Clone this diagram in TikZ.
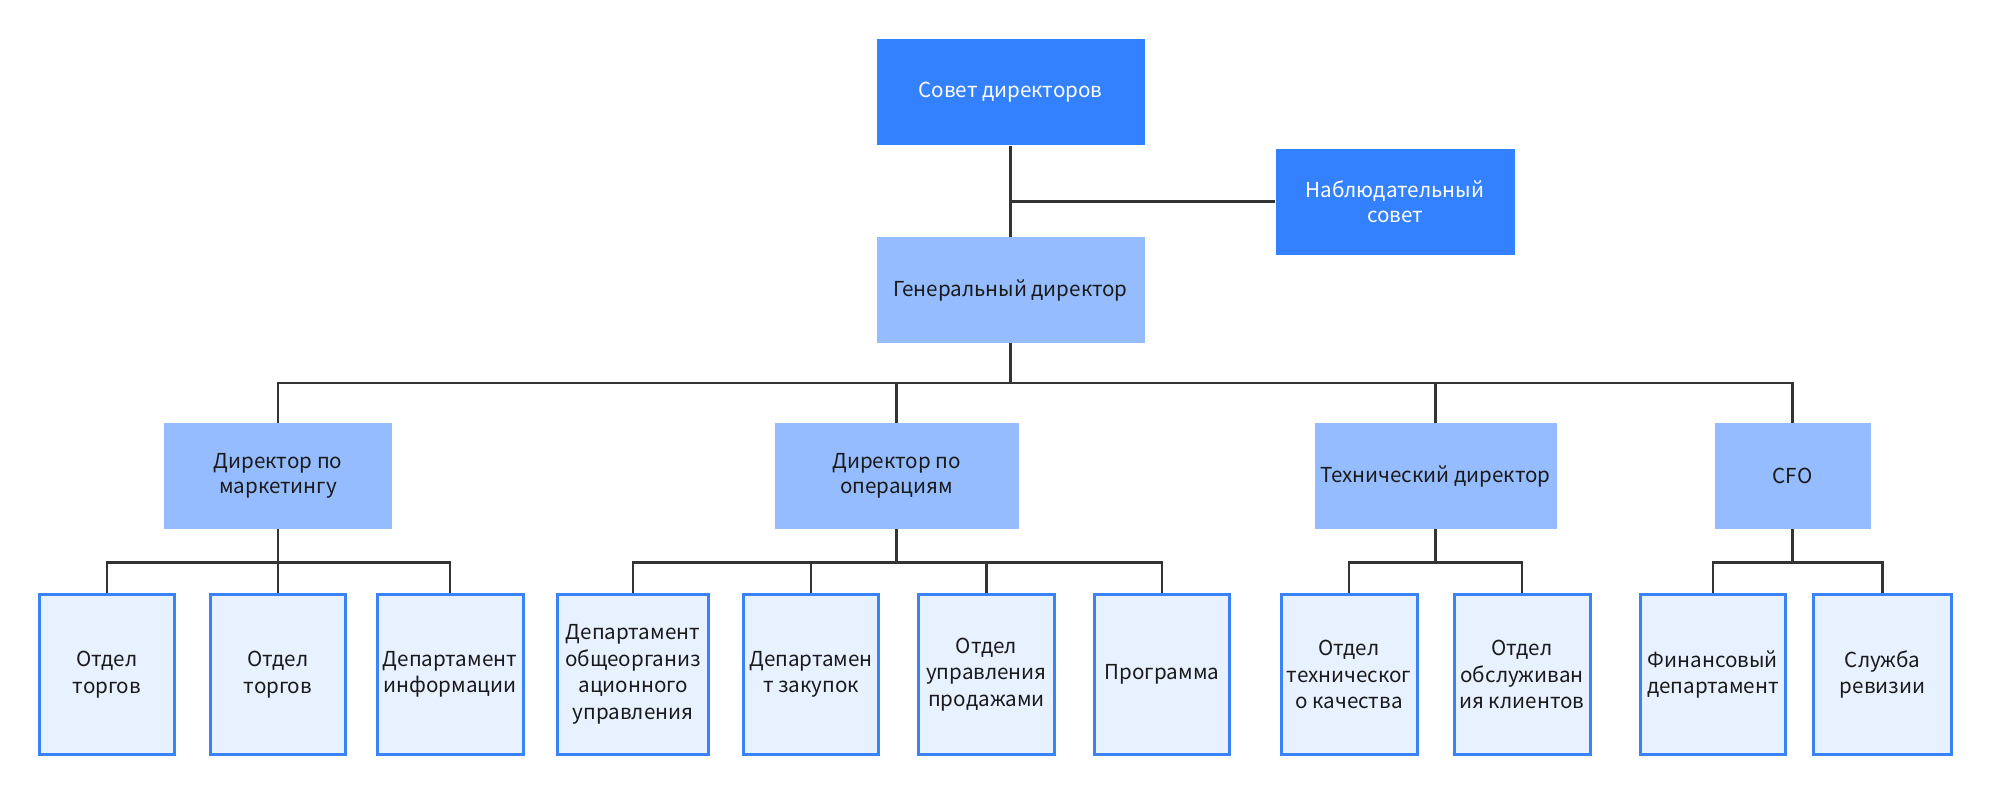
\documentclass[tikz,border=0pt]{standalone}
\usepackage{fontspec}
\setmainfont{Noto Sans CJK SC}
\definecolor{darkblue}{HTML}{3381FF}
\definecolor{midblue}{HTML}{94BCFF}
\definecolor{leaffill}{HTML}{E8F1FF}
\definecolor{leafborder}{HTML}{3A82F7}
\definecolor{linecol}{HTML}{333333}
\definecolor{txt}{HTML}{1A1A1A}
\tikzset{
  topbox/.style={rectangle, fill=darkblue, text=white, inner sep=0pt, minimum height=106pt, align=center, font=\fontsize{20.6}{25}\selectfont},
  midbox/.style={rectangle, fill=midblue, text=txt, inner sep=0pt, minimum height=106pt, align=center, font=\fontsize{20.6}{25}\selectfont},
  leafbox/.style={rectangle, fill=leaffill, draw=leafborder, line width=3pt, text=txt, inner sep=0pt, minimum height=160.5pt, align=center, font=\fontsize{20.6}{26.5}\selectfont},
  conn/.style={draw=linecol, line width=2.6pt}
}
\begin{document}
\begin{tikzpicture}[x=1pt,y=-1pt]
\useasboundingbox[fill=white] (0,0) rectangle (1989,793);
% top
\node[topbox, minimum width=268pt] (sovet) at (1010.5,92.3) {Совет директоров};
\node[topbox, minimum width=239pt] (nabl) at (1395,201.5) {Наблюдательный\\совет};
\node[midbox, minimum width=268pt] (gd) at (1010.5,290) {Генеральный директор};
% middle
\node[midbox, minimum width=227.5pt] (dm) at (278,476) {Директор по\\маркетингу};
\node[midbox, minimum width=244pt] (dop) at (896.5,476) {Директор по\\операциям};
\node[midbox, minimum width=242pt] (td) at (1435.5,476) {Технический директор};
\node[midbox, minimum width=156pt] (cfo) at (1792.5,476) {CFO};
% leaves
\node[leafbox, minimum width=135.5pt] (l1) at (107,674.5) {Отдел\\торгов};
\node[leafbox, minimum width=135.5pt] (l2) at (278,674.5) {Отдел\\торгов};
\node[leafbox, minimum width=146pt] (l3) at (450,674.5) {Департамент\\информации};
\node[leafbox, minimum width=151.5pt] (l4) at (633,674.5) {Департамент\\общеорганиз\\ационного\\управления};
\node[leafbox, minimum width=135.5pt] (l5) at (811,674.5) {Департамен\\т закупок};
\node[leafbox, minimum width=135.5pt] (l6) at (986.4,674.5) {Отдел\\управления\\продажами};
\node[leafbox, minimum width=135.5pt] (l7) at (1162,674.5) {Программа};
\node[leafbox, minimum width=136pt] (l8) at (1349,674.5) {Отдел\\техническог\\о качества};
\node[leafbox, minimum width=136pt] (l9) at (1522,674.5) {Отдел\\обслуживан\\ия клиентов};
\node[leafbox, minimum width=145pt] (l10) at (1712.8,674.5) {Финансовый\\департамент};
\node[leafbox, minimum width=137.5pt] (l11) at (1882.5,674.5) {Служба\\ревизии};
% bus coordinates
\coordinate (busA) at (0,383);
\coordinate (busB) at (0,562.7);
% connectors top
\draw[conn] (sovet.south) -- (gd.north);
\draw[conn] (nabl.west) -- (sovet.south |- nabl.west);
\draw[conn] (gd.south) -- (gd.south |- busA);
\draw[conn] (dm.north) -- (dm.north |- busA) -- (cfo.north |- busA) -- (cfo.north);
\draw[conn] (dop.north) -- (dop.north |- busA);
\draw[conn] (td.north) -- (td.north |- busA);
% marketing
\draw[conn] (dm.south) -- (dm.south |- busB);
\draw[conn] (l1.north) -- (l1.north |- busB) -- (l3.north |- busB) -- (l3.north);
\draw[conn] (l2.north) -- (l2.north |- busB);
% operations
\draw[conn] (dop.south) -- (dop.south |- busB);
\draw[conn] (l4.north) -- (l4.north |- busB) -- (l7.north |- busB) -- (l7.north);
\draw[conn] (l5.north) -- (l5.north |- busB);
\draw[conn] (l6.north) -- (l6.north |- busB);
% technical
\draw[conn] (td.south) -- (td.south |- busB);
\draw[conn] (l8.north) -- (l8.north |- busB) -- (l9.north |- busB) -- (l9.north);
% cfo
\draw[conn] (cfo.south) -- (cfo.south |- busB);
\draw[conn] (l10.north) -- (l10.north |- busB) -- (l11.north |- busB) -- (l11.north);
\end{tikzpicture}
\end{document}
